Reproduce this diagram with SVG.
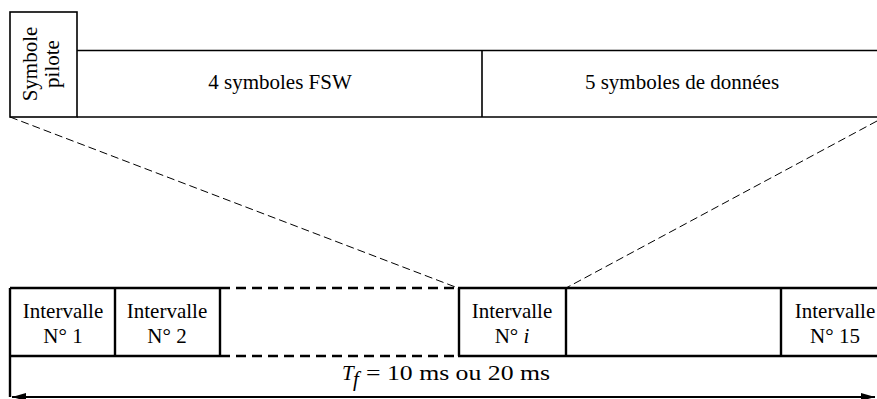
<svg xmlns="http://www.w3.org/2000/svg" width="877" height="399" viewBox="0 0 877 399">
<defs>
<style>
text{font-family:"Liberation Serif","Times New Roman",serif;font-size:21px;fill:#000}
.box{fill:none;stroke:#000;stroke-width:1.6}
.thick{fill:none;stroke:#000;stroke-width:2.4}
.tdash{fill:none;stroke:#000;stroke-width:2.4;stroke-dasharray:10 6}
.thin{fill:none;stroke:#000;stroke-width:1;stroke-dasharray:8 4}
</style>
<marker id="ah" viewBox="0 0 14 8" refX="14" refY="4" markerWidth="14" markerHeight="8" markerUnits="userSpaceOnUse" orient="auto-start-reverse">
<path d="M0,0 L14,4 L0,8 Z" fill="#000"/>
</marker>
</defs>
<g id="pilot">
<rect class="box" x="10" y="12" width="67" height="105"/>
<text transform="translate(37,64) rotate(-90)" text-anchor="middle">Symbole</text>
<text transform="translate(59,64) rotate(-90)" text-anchor="middle">pilote</text>
</g>
<g id="fsw">
<path class="box" d="M77,50.5 H878 M77,117 H878 M482,50.5 V117"/>
<text x="280" y="89" text-anchor="middle">4 symboles FSW</text>
</g>
<g id="data">
<text x="682" y="89" text-anchor="middle">5 symboles de données</text>
</g>
<g id="connectors">
<path class="thin" d="M10,117 L458,288"/>
<path class="thin" d="M877,121 L566,288"/>
</g>
<g id="row">
<path class="thick" d="M10,288 V397 M10,288 H220 M458,288 H878 M10,356 H220 M458,356 H878 M115,288 V356 M220,288 V356 M459,288 V356 M566,288 V356 M781,288 V356"/>
<path class="tdash" d="M220,288 H458 M220,356 H458"/>
</g>
<g id="i1"><text x="63" y="318" text-anchor="middle">Intervalle</text><text x="63" y="343" text-anchor="middle">N° 1</text></g>
<g id="i2"><text x="167" y="318" text-anchor="middle">Intervalle</text><text x="167" y="343" text-anchor="middle">N° 2</text></g>
<g id="ii"><text x="512" y="318" text-anchor="middle">Intervalle</text><text x="512" y="343" text-anchor="middle">N° <tspan font-style="italic">i</tspan></text></g>
<g id="i15"><text x="835" y="318" text-anchor="middle">Intervalle</text><text x="835" y="343" text-anchor="middle">N° 15</text></g>
<g id="tf">
<path d="M12,397 H875" stroke="#000" stroke-width="2" marker-start="url(#ah)" marker-end="url(#ah)"/>
<text x="342" y="380" font-style="italic" font-size="22">T</text>
<text x="353" y="386" font-style="italic" font-size="17">f</text>
<text x="366" y="380" font-size="22" textLength="184" lengthAdjust="spacingAndGlyphs">= 10 ms ou 20 ms</text>
</g>
</svg>
